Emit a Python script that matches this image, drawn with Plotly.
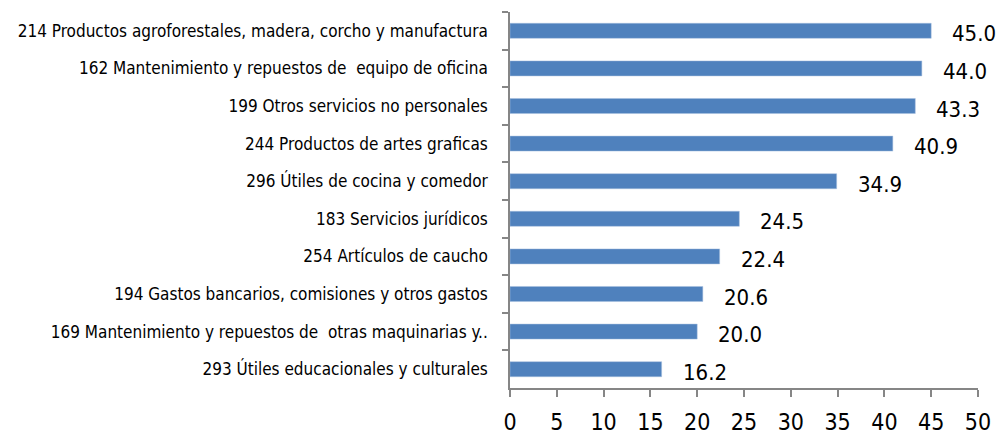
import plotly.graph_objects as go

categories = [
    "214 Productos agroforestales, madera, corcho y manufactura",
    "162 Mantenimiento y repuestos de  equipo de oficina",
    "199 Otros servicios no personales",
    "244 Productos de artes graficas",
    "296 Útiles de cocina y comedor",
    "183 Servicios jurídicos",
    "254 Artículos de caucho",
    "194 Gastos bancarios, comisiones y otros gastos",
    "169 Mantenimiento y repuestos de  otras maquinarias y..",
    "293 Útiles educacionales y culturales",
]
values = [45.0, 44.0, 43.3, 40.9, 34.9, 24.5, 22.4, 20.6, 20.0, 16.2]
x_ticks = [0, 5, 10, 15, 20, 25, 30, 35, 40, 45, 50]

FONT = "DejaVu Sans Condensed, Liberation Sans Narrow, sans-serif"

fig = go.Figure()
fig.add_trace(go.Bar(
    x=values, y=categories, orientation="h",
    marker=dict(color="#4F81BD", line=dict(color="#A7BFDE", width=0.5)),
    width=0.4,
))
for v, c in zip(values, categories):
    fig.add_annotation(x=v, y=c, text=f"{v:.1f}", showarrow=False,
                       xanchor="left", xshift=19, yshift=-3,
                       font=dict(family=FONT, size=22, color="#000000"))

fig.update_layout(
    width=998, height=439,
    margin=dict(l=510, r=20, t=12, b=51, autoexpand=False),
    paper_bgcolor="white", plot_bgcolor="white",
    showlegend=False,
    font=dict(family=FONT, color="#000000"),
)
fig.update_xaxes(
    range=[0, 50], tickvals=x_ticks, ticktext=[str(t) for t in x_ticks],
    showgrid=False, zeroline=False, automargin=False,
    showline=True, linecolor="#868686", linewidth=1.5,
    ticks="outside", ticklen=7, tickcolor="#868686", tickwidth=1.5,
    tickfont=dict(family=FONT, size=23, color="#000000"),
    ticklabelstandoff=6,
)
fig.update_yaxes(
    autorange="reversed", showgrid=False, zeroline=False, automargin=False,
    showline=True, linecolor="#868686", linewidth=1.5,
    ticks="outside", ticklen=6, tickcolor="#868686", tickwidth=1.5,
    tickson="boundaries",
    tickfont=dict(family=FONT, size=17, color="#000000"),
    ticklabelstandoff=17,
)

fig.write_html(
    "out.html",
    config={"displayModeBar": False},
    post_script="document.body.style.margin='0';document.body.style.overflow='hidden';",
)
